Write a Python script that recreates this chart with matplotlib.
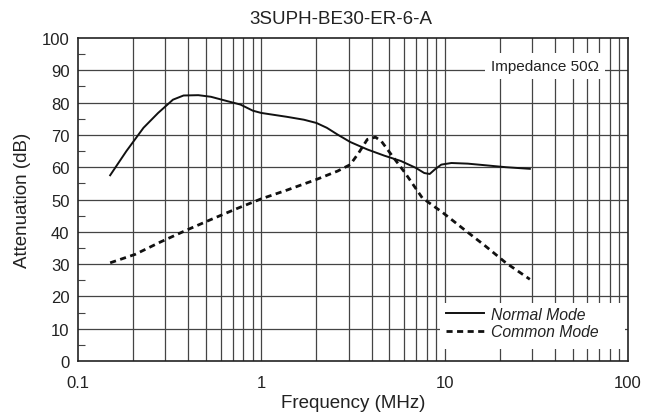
import numpy as np
import matplotlib.pyplot as plt
from matplotlib.patches import Rectangle
from matplotlib.ticker import FixedLocator, MultipleLocator, NullFormatter

plt.rcParams['font.family'] = ['Liberation Sans', 'DejaVu Sans']

# Normal mode curve (MHz, dB)
nm_freq = [0.15, 0.184, 0.228, 0.274, 0.33, 0.377, 0.454, 0.532, 0.658, 0.77, 0.90, 1.0,
           1.38, 1.71, 2.0, 2.28, 2.61, 3.06, 3.79, 4.68, 5.79, 6.97, 7.75, 8.3, 8.85,
           9.6, 10.9, 13.4, 16.7, 21.6, 29.2]
nm_att = [57.5, 65.0, 72.2, 76.8, 80.9, 82.2, 82.3, 81.8, 80.4, 79.4, 77.5, 76.8,
          75.6, 74.7, 73.7, 72.2, 70.1, 67.8, 65.5, 63.6, 61.9, 59.8, 58.2, 57.9, 59.3,
          60.8, 61.3, 61.1, 60.6, 60.0, 59.5]

# Common mode curve (MHz, dB)
cm_freq = [0.15, 0.205, 0.281, 0.387, 0.532, 0.73, 1.0, 1.38, 2.0, 2.61, 3.06, 3.4,
           3.79, 4.2, 4.53, 5.2, 6.1, 7.56, 9.8, 12.8, 16.7, 21.6, 29.2]
cm_att = [30.4, 33.0, 36.8, 40.4, 43.8, 47.1, 50.2, 52.9, 56.2, 58.8, 60.8, 64.4,
          68.6, 69.3, 68.0, 63.4, 58.2, 50.5, 45.9, 40.7, 35.6, 30.4, 25.3]

fig = plt.figure(figsize=(6.6, 4.14), dpi=100)
ax = fig.add_axes([0.118, 0.1256, 0.8333, 0.7802])

ax.set_xscale('log')
ax.set_xlim(0.1, 100)
ax.set_ylim(0, 100)

# grid on every log step and every 10 dB
grid_x = [m * 10.0 ** e for e in (-1, 0, 1) for m in range(1, 10)]
for gx in grid_x[1:]:
    ax.axvline(gx, color='#444444', lw=0.9, zorder=1)
for gy in range(10, 100, 10):
    ax.axhline(gy, color='#444444', lw=0.9, zorder=1)

ax.plot(nm_freq, nm_att, color='#111111', lw=1.4, label='Normal Mode', zorder=3)
ax.plot(cm_freq, cm_att, color='#111111', lw=2.0, linestyle=(0, (2.2, 1.6)),
        label='Common Mode', zorder=3)

ax.xaxis.set_major_locator(FixedLocator([0.1, 1, 10, 100]))
ax.set_xticklabels(['0.1', '1', '10', '100'])
ax.xaxis.set_minor_formatter(NullFormatter())
ax.yaxis.set_major_locator(MultipleLocator(10))
ax.yaxis.set_minor_locator(MultipleLocator(5))
ax.tick_params(axis='x', which='both', length=0, labelsize=12, pad=10, colors='#222222')
ax.tick_params(axis='y', which='major', length=0, labelsize=12, pad=6, colors='#222222')
ax.tick_params(axis='y', which='minor', direction='in', length=5, width=0.8, color='#444444')

for sp in ax.spines.values():
    sp.set_linewidth(1.2)
    sp.set_color('#222222')

ax.set_title('3SUPH-BE30-ER-6-A', fontsize=13.5, pad=11, x=0.478, color='#222222')
ax.set_xlabel('Frequency (MHz)', fontsize=13.5, labelpad=3, color='#222222')
ax.set_ylabel('Attenuation (dB)', fontsize=13.5, labelpad=8, color='#222222')

ax.text(17.9, 91.3, 'Impedance 50\u03a9', fontsize=11, va='center', ha='left', color='#222222',
        bbox=dict(facecolor='white', edgecolor='none', pad=4.5), zorder=4)

# white panel behind the legend
ax.add_patch(Rectangle((0.658, 0.037), 0.3365, 0.143, transform=ax.transAxes,
                       facecolor='white', edgecolor='none', zorder=4))

leg = ax.legend(loc='upper left', bbox_to_anchor=(0.66, 0.185), frameon=False,
                fontsize=11.3, handlelength=2.4, handletextpad=0.45, labelspacing=0.15,
                borderpad=0.35, borderaxespad=0)
for t in leg.get_texts():
    t.set_fontstyle('italic')
    t.set_color('#222222')
leg.set_zorder(5)

plt.savefig('out.png', dpi=100)
